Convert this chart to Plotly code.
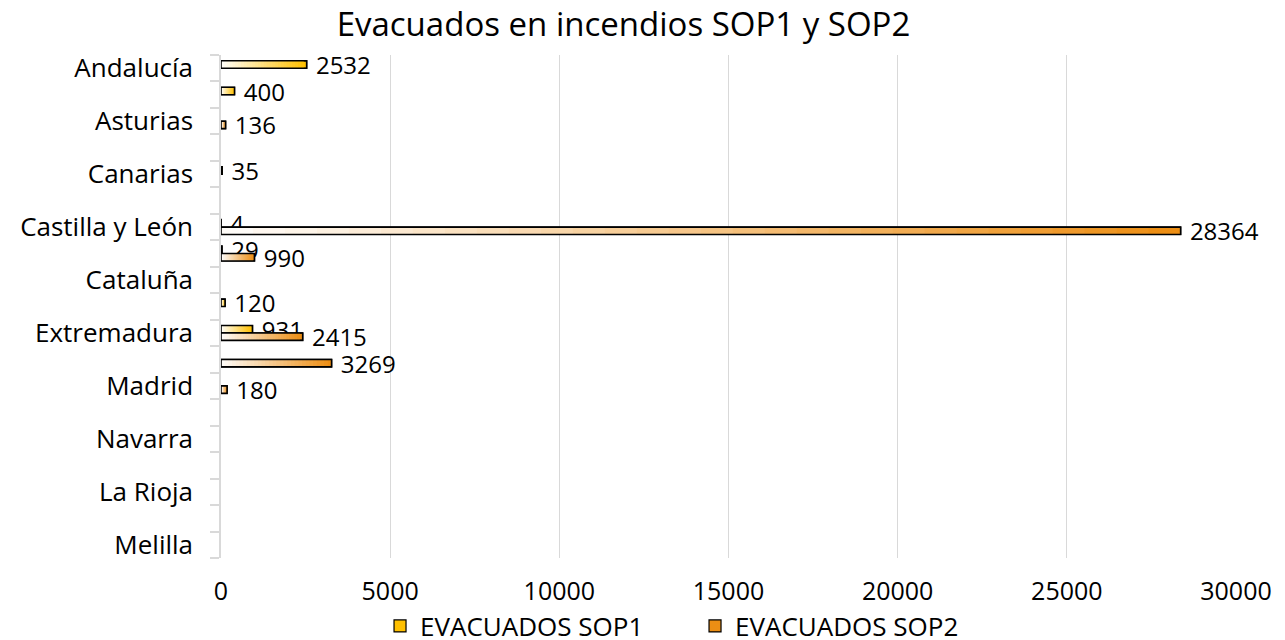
import plotly.graph_objects as go

categories = ["Andalucía", "Aragón", "Asturias", "Illes Balears", "Canarias", "Cantabria",
              "Castilla y León", "Castilla-La Mancha", "Cataluña", "Comunitat Valenciana",
              "Extremadura", "Galicia", "Madrid", "Murcia", "Navarra", "País Vasco",
              "La Rioja", "Ceuta", "Melilla"]
sop1 = [2532, 400, None, None, 35, None, 4, 29, None, 120, 931, None, None, None, None, None, None, None, None]
sop2 = [None, None, 136, None, None, None, 28364, 990, None, None, 2415, 3269, 180, None, None, None, None, None, None]
series_names = ["EVACUADOS SOP1", "EVACUADOS SOP2"]
x_ticks = [0, 5000, 10000, 15000, 20000, 25000, 30000]

FONT = "Open Sans, Liberation Sans, Arial, sans-serif"
colors = [(255, 192, 0), (236, 142, 20)]
BAR_W = 0.28
offsets = [-BAR_W, 0.0]
STEPS = 30
W, H = 1277, 632

fig = go.Figure()
for s, (vals, name, col, off) in enumerate(zip([sop1, sop2], series_names, colors, offsets)):
    for k in range(STEPS, 0, -1):
        t = k / STEPS
        c = tuple(round(255 + (cc - 255) * t) for cc in col)
        xs = [None if v is None else v * t for v in vals]
        fig.add_trace(go.Bar(
            y=categories, x=xs, orientation="h",
            width=BAR_W, offset=off,
            marker=dict(color="rgb(%d,%d,%d)" % c,
                        line=dict(color="black", width=1.2 if k == STEPS else 0)),
            name=name, legendgroup=name, showlegend=(k == STEPS),
            hoverinfo="skip",
        ))
    fig.add_trace(go.Bar(
        y=categories, x=vals, orientation="h",
        width=BAR_W, offset=off,
        marker=dict(color="rgba(0,0,0,0)", line=dict(color="black", width=1.6)),
        text=["" if v is None else " %d" % v for v in vals],
        textposition="outside", constraintext="none", cliponaxis=False,
        textfont=dict(family=FONT, size=24, color="black"),
        name=name, legendgroup=name, showlegend=False,
    ))

fig.update_layout(
    barmode="overlay",
    width=W, height=H,
    paper_bgcolor="white", plot_bgcolor="white",
    margin=dict(l=213, r=49, t=47, b=82, autoexpand=False),
    font=dict(family=FONT, size=24, color="black"),
    title=dict(text="Evacuados en incendios SOP1 y SOP2", x=0.482, xanchor="center",
               y=1 - 16 / H, yanchor="middle", yref="container",
               font=dict(family=FONT, size=33, color="black")),
    legend=dict(orientation="h", x=0.538, xanchor="center", xref="container",
                y=1 - 618 / H, yanchor="middle", yref="container",
                font=dict(family=FONT, size=26, color="black"),
                traceorder="normal", itemwidth=30,
                entrywidth=270, entrywidthmode="pixels"),
    showlegend=True,
)
fig.update_xaxes(range=[0, 30000], tickvals=x_ticks, tickformat="d",
                 showgrid=True, gridcolor="#D9D9D9", gridwidth=1,
                 zeroline=False, showline=False, ticks="", automargin=False,
                 ticklabelstandoff=16, tickfont=dict(size=25))
fig.update_yaxes(type="category", categoryorder="array", categoryarray=categories,
                 range=[len(categories) - 0.5, -0.5],
                 tickmode="array", tickvals=categories,
                 ticktext=[c if i % 2 == 0 else "" for i, c in enumerate(categories)],
                 tickson="boundaries", ticks="outside", ticklen=9, tickcolor="#D9D9D9",
                 tickwidth=1.5, showgrid=False, showline=True, linecolor="#D9D9D9",
                 linewidth=1.5, zeroline=False, ticklabelstandoff=21, automargin=False,
                 tickfont=dict(size=26))

fig.write_html("out.html")
